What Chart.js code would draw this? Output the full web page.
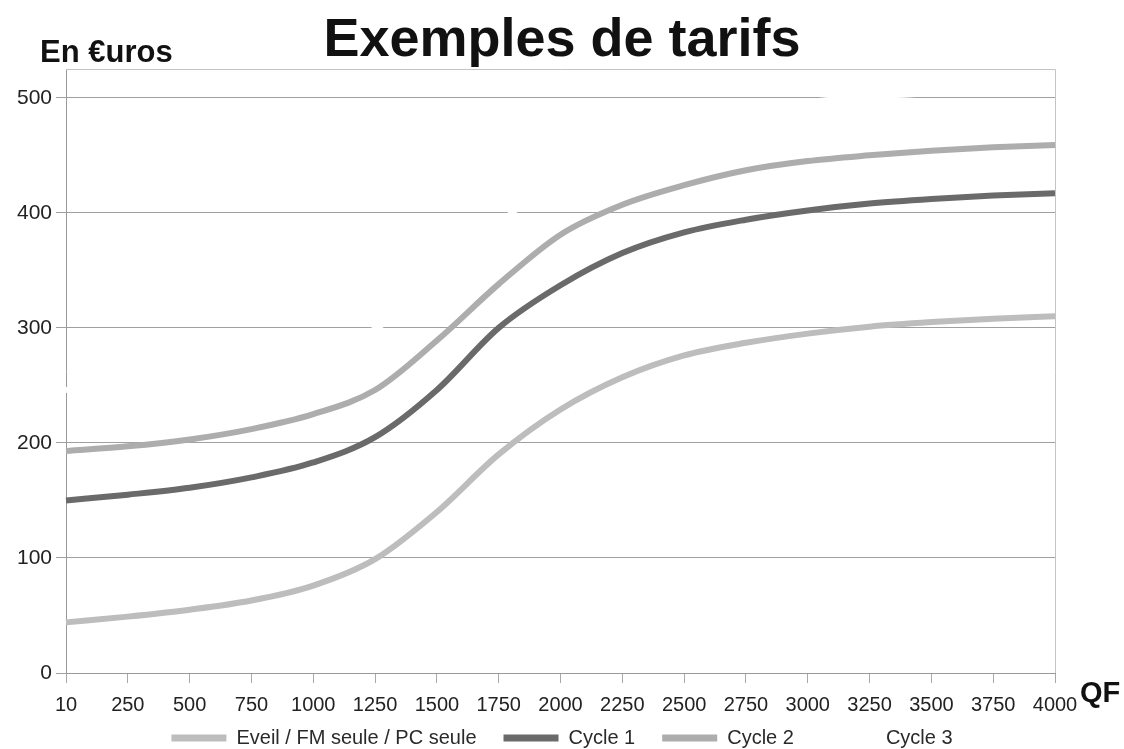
<!DOCTYPE html>
<html>
<head>
<meta charset="utf-8">
<script src="https://cdn.jsdelivr.net/npm/chart.js@4.4.1/dist/chart.umd.min.js"></script>
<style>
  html, body { margin: 0; padding: 0; background: #ffffff; }
  #wrap { width: 1124px; height: 749px; }
</style>
</head>
<body>
<div id="wrap"><canvas id="c" width="1124" height="749"></canvas></div>
<script>
// ---- data ----
const qfLabels = ['10','250','500','750','1000','1250','1500','1750','2000','2250','2500','2750','3000','3250','3500','3750','4000'];
const eveil  = [44, 49, 55, 63, 76, 99, 140, 190, 229, 257, 276, 287, 295, 301, 305, 308, 310];
const cycle1 = [150, 155, 161, 170, 183, 205, 246, 300, 337, 365, 383, 394, 402, 408, 412, 415, 417];
const cycle2 = [193, 197, 203, 212, 225, 246, 289, 338, 381, 407, 424, 437, 445, 450, 454, 457, 459];
const cycle3 = [246, 250, 256, 265, 278, 299, 340, 390, 433, 460, 477, 488, 496, 501, 504, 506, 508];
const seriesNames = ['Eveil / FM seule / PC seule', 'Cycle 1', 'Cycle 2', 'Cycle 3'];
const yTickValues = [0, 100, 200, 300, 400, 500];

const FONT = "'Liberation Sans', Arial, sans-serif";
const LEGEND_CENTER_Y = 738;

function ds(label, data, color) {
  return {
    label, data,
    borderColor: color, backgroundColor: color,
    borderWidth: 6, pointRadius: 0, pointHoverRadius: 0,
    tension: 0.4, cubicInterpolationMode: 'monotone', fill: false
  };
}

const frame = {
  id: 'frame',
  afterLayout(chart) {
    // move the legend row up so that it sits just under the axis labels
    const lg = chart.legend;
    if (!lg) return;
    const pad = lg.options.labels.padding;
    const fs = lg.options.labels.font.size;
    const center = lg.top + pad + fs / 2;
    const dy = LEGEND_CENTER_Y - center;
    lg.top += dy; lg.bottom += dy;
  },
  beforeDatasetsDraw(chart) {
    const a = chart.chartArea, ctx = chart.ctx;
    ctx.save();
    ctx.strokeStyle = '#c4c4c4';
    ctx.lineWidth = 1;
    ctx.beginPath();
    ctx.moveTo(a.left, a.top + 0.5);
    ctx.lineTo(a.right + 0.5, a.top + 0.5);
    ctx.lineTo(a.right + 0.5, a.bottom);
    ctx.stroke();
    ctx.restore();
  },
  afterDraw(chart) {
    const ctx = chart.ctx;
    ctx.save();
    ctx.fillStyle = '#111';
    ctx.textBaseline = 'alphabetic';
    ctx.textAlign = 'left';
    ctx.font = 'bold 31px ' + FONT;
    ctx.fillText('En €uros', 40, 62);
    ctx.font = 'bold 29px ' + FONT;
    ctx.fillText('QF', 1080, 702);
    ctx.restore();
  }
};

new Chart(document.getElementById('c'), {
  type: 'line',
  data: {
    labels: qfLabels,
    datasets: [
      ds(seriesNames[0], eveil, '#bdbdbd'),
      ds(seriesNames[1], cycle1, '#6a6a6a'),
      ds(seriesNames[2], cycle2, '#adadad'),
      ds(seriesNames[3], cycle3, '#ffffff')
    ]
  },
  options: {
    responsive: false,
    animation: false,
    devicePixelRatio: 1,
    layout: { padding: { left: 0, right: 0, top: 0, bottom: -24 } },
    plugins: {
      title: {
        display: true,
        text: 'Exemples de tarifs',
        color: '#111',
        font: { family: FONT, size: 54, weight: 'bold', lineHeight: 1.0 },
        padding: { top: 14, bottom: 1 }
      },
      legend: {
        display: true,
        position: 'bottom',
        labels: {
          color: '#2a2a2a',
          font: { family: FONT, size: 20 },
          boxWidth: 55,
          boxHeight: 7,
          padding: 27,
          generateLabels(chart) {
            const items = Chart.defaults.plugins.legend.labels.generateLabels(chart);
            items.forEach(it => { it.lineWidth = 0; });
            return items;
          }
        }
      },
      tooltip: { enabled: false }
    },
    scales: {
      x: {
        type: 'category',
        offset: false,
        grid: { drawOnChartArea: false, drawTicks: true, tickLength: 10, color: '#a8a8a8' },
        border: { display: true, color: '#9a9a9a' },
        ticks: { color: '#222', font: { family: FONT, size: 20 }, padding: 10, maxRotation: 0, autoSkip: false },
        afterFit(scale) { scale.height = 43; }
      },
      y: {
        min: 0, max: 525,
        grid: { color: '#a0a0a0', tickLength: 10, lineWidth: 1 },
        border: { display: true, color: '#9a9a9a' },
        ticks: { stepSize: 100, color: '#222', font: { family: FONT, size: 21 }, padding: 4 },
        afterBuildTicks(scale) { scale.ticks = yTickValues.map(v => ({ value: v })); },
        afterFit(scale) { scale.width = 66; }
      },
      yr: {
        position: 'right',
        display: true,
        grid: { display: false, drawTicks: false },
        border: { display: false },
        ticks: { display: false },
        afterFit(scale) { scale.width = 69; }
      }
    }
  },
  plugins: [frame]
});
</script>
</body>
</html>
